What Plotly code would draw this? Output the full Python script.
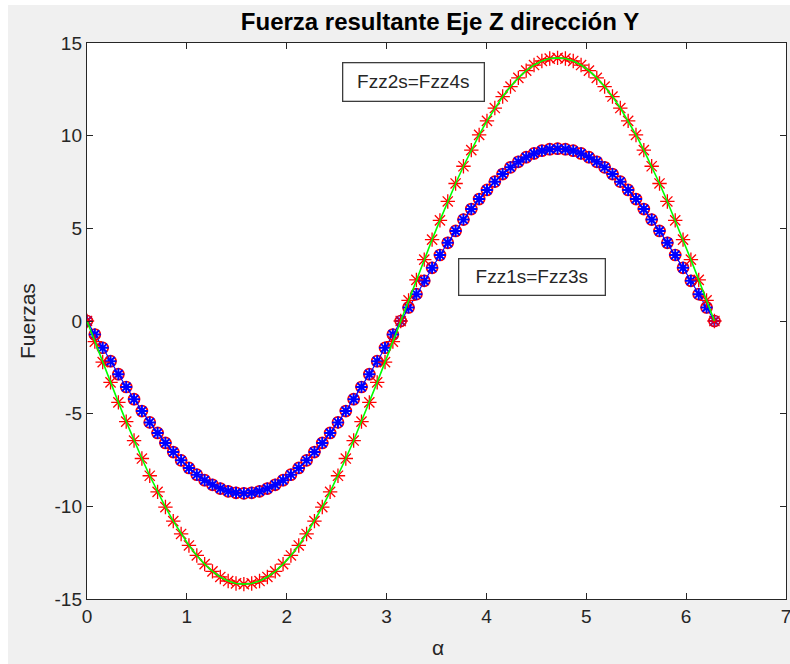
import plotly.graph_objects as go

# alpha values (rad)
alpha = [0, 0.0785, 0.1571, 0.2356, 0.3142, 0.3927, 0.4712, 0.5498, 0.6283, 0.7069,
         0.7854, 0.8639, 0.9425, 1.0210, 1.0996, 1.1781, 1.2566, 1.3352, 1.4137, 1.4923,
         1.5708, 1.6493, 1.7279, 1.8064, 1.8850, 1.9635, 2.0420, 2.1206, 2.1991, 2.2777,
         2.3562, 2.4347, 2.5133, 2.5918, 2.6704, 2.7489, 2.8274, 2.9060, 2.9845, 3.0631,
         3.1416, 3.2201, 3.2987, 3.3772, 3.4558, 3.5343, 3.6128, 3.6914, 3.7699, 3.8485,
         3.9270, 4.0055, 4.0841, 4.1626, 4.2412, 4.3197, 4.3982, 4.4768, 4.5553, 4.6339,
         4.7124, 4.7909, 4.8695, 4.9480, 5.0265, 5.1051, 5.1836, 5.2622, 5.3407, 5.4192,
         5.4978, 5.5763, 5.6549, 5.7334, 5.8119, 5.8905, 5.9690, 6.0476, 6.1261, 6.2046,
         6.2832]

# Fzz1s = Fzz3s (smaller amplitude)
fzz1s = [0, -0.73, -1.45, -2.17, -2.87, -3.56, -4.22, -4.86, -5.47, -6.04,
         -6.58, -7.07, -7.52, -7.93, -8.29, -8.59, -8.84, -9.04, -9.19, -9.27,
         -9.30, -9.27, -9.19, -9.04, -8.84, -8.59, -8.29, -7.93, -7.52, -7.07,
         -6.58, -6.04, -5.47, -4.86, -4.22, -3.56, -2.87, -2.17, -1.45, -0.73,
         0, 0.73, 1.45, 2.17, 2.87, 3.56, 4.22, 4.86, 5.47, 6.04,
         6.58, 7.07, 7.52, 7.93, 8.29, 8.59, 8.84, 9.04, 9.19, 9.27,
         9.30, 9.27, 9.19, 9.04, 8.84, 8.59, 8.29, 7.93, 7.52, 7.07,
         6.58, 6.04, 5.47, 4.86, 4.22, 3.56, 2.87, 2.17, 1.45, 0.73,
         0]
fzz3s = list(fzz1s)

# Fzz2s = Fzz4s (larger amplitude)
fzz2s = [0, -1.11, -2.22, -3.31, -4.39, -5.43, -6.45, -7.42, -8.35, -9.22,
         -10.04, -10.80, -11.49, -12.11, -12.65, -13.12, -13.51, -13.81, -14.03, -14.16,
         -14.20, -14.16, -14.03, -13.81, -13.51, -13.12, -12.65, -12.11, -11.49, -10.80,
         -10.04, -9.22, -8.35, -7.42, -6.45, -5.43, -4.39, -3.31, -2.22, -1.11,
         0, 1.11, 2.22, 3.31, 4.39, 5.43, 6.45, 7.42, 8.35, 9.22,
         10.04, 10.80, 11.49, 12.11, 12.65, 13.12, 13.51, 13.81, 14.03, 14.16,
         14.20, 14.16, 14.03, 13.81, 13.51, 13.12, 12.65, 12.11, 11.49, 10.80,
         10.04, 9.22, 8.35, 7.42, 6.45, 5.43, 4.39, 3.31, 2.22, 1.11,
         0]
fzz4s = list(fzz2s)

x_ticks = [0, 1, 2, 3, 4, 5, 6, 7]
x_labels = ["0", "1", "2", "3", "4", "5", "6", "7"]
y_ticks = [-15, -10, -5, 0, 5, 10, 15]
y_labels = ["-15", "-10", "-5", "0", "5", "10", "15"]

FONT = "Liberation Sans, Arial, Helvetica, sans-serif"
AX = "#262626"

fig = go.Figure()
fig.add_trace(go.Scatter(x=alpha, y=fzz1s, mode="markers", name="Fzz1s",
                         marker=dict(symbol="circle-open", size=11, color="#ff0000",
                                     line=dict(color="#ff0000", width=1.7))))
fig.add_trace(go.Scatter(x=alpha, y=fzz3s, mode="lines+markers", name="Fzz3s",
                         line=dict(color="#0000ff", width=1.2),
                         marker=dict(symbol="asterisk-open", size=10, color="#0000ff",
                                     line=dict(color="#0000ff", width=2))))
fig.add_trace(go.Scatter(x=alpha, y=fzz2s, mode="markers", name="Fzz2s",
                         marker=dict(symbol="asterisk-open", size=12, color="#ff0000",
                                     line=dict(color="#ff0000", width=1.3))))
fig.add_trace(go.Scatter(x=alpha, y=fzz4s, mode="lines", name="Fzz4s",
                         line=dict(color="#00ff00", width=1.6)))

W, H = 790, 664
L, T = 87, 43
R = W - 786
B = H - 599
pw, ph = W - L - R, H - T - B

def px_x(p):
    return (p - L) / pw

def px_y(p):
    return 1 - (p - T) / ph

fig.update_layout(
    width=W, height=H,
    margin=dict(l=L, r=R, t=T, b=B, autoexpand=False),
    paper_bgcolor="#f0f0f0",
    plot_bgcolor="#ffffff",
    showlegend=False,
    hovermode=False,
    font=dict(family=FONT, color=AX, size=18),
    title=dict(text="<b>Fuerza resultante Eje Z dirección Y</b>",
               x=px_x(440), xref="paper", xanchor="center",
               y=1 - 22 / H, yref="container", yanchor="middle",
               font=dict(family=FONT, size=24, color="#000000")),
    xaxis=dict(range=[0, 7], tickvals=x_ticks, ticktext=x_labels, ticks="inside", ticklen=6,
               tickcolor=AX, showline=True, linecolor=AX, linewidth=1.2,
               mirror="ticks", showgrid=False, zeroline=False, automargin=False,
               ticklabeloverflow="allow",
               tickfont=dict(size=19, color=AX, family=FONT)),
    yaxis=dict(range=[-15, 15], tickvals=y_ticks, ticktext=y_labels, ticks="inside", ticklen=6,
               tickcolor=AX, showline=True, linecolor=AX, linewidth=1.2,
               mirror="ticks", showgrid=False, zeroline=False, automargin=False,
               ticklabeloverflow="allow",
               tickfont=dict(size=19, color=AX, family=FONT)),
    shapes=[
        dict(type="rect", xref="paper", yref="paper", layer="below",
             x0=px_x(0), x1=px_x(W), y0=px_y(0), y1=px_y(5),
             fillcolor="#ffffff", line=dict(width=0)),
        dict(type="rect", xref="paper", yref="paper", layer="below",
             x0=px_x(0), x1=px_x(8), y0=px_y(0), y1=px_y(H),
             fillcolor="#ffffff", line=dict(width=0)),
    ],
    annotations=[
        dict(text="α", xref="paper", yref="paper", x=px_x(438), y=px_y(647),
             showarrow=False, xanchor="center", yanchor="middle",
             font=dict(size=21, color=AX, family=FONT)),
        dict(text="Fuerzas", xref="paper", yref="paper", x=px_x(27), y=px_y(321),
             showarrow=False, textangle=-90, xanchor="center", yanchor="middle",
             font=dict(size=21, color=AX, family=FONT)),
        dict(text="Fzz2s=Fzz4s", x=3.27, y=12.92, xref="x", yref="y",
             showarrow=False, xanchor="center", yanchor="middle",
             width=136, height=33, borderpad=2, borderwidth=1.3,
             bordercolor="#3c3c3c", bgcolor="#ffffff",
             font=dict(size=19, color="#262626", family=FONT)),
        dict(text="Fzz1s=Fzz3s", x=4.46, y=2.35, xref="x", yref="y",
             showarrow=False, xanchor="center", yanchor="middle",
             width=141, height=31, borderpad=2, borderwidth=1.3,
             bordercolor="#3c3c3c", bgcolor="#ffffff",
             font=dict(size=19, color="#262626", family=FONT)),
    ],
)

fig.write_html("out.html",
               config={"displayModeBar": False, "staticPlot": True},
               post_script="document.body.style.margin='0';document.body.style.overflow='hidden';")
